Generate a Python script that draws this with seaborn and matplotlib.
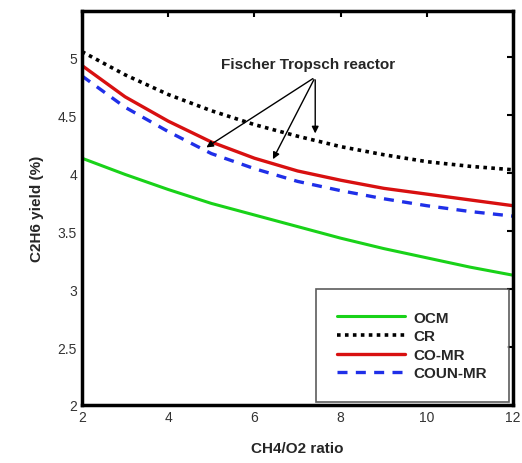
import numpy as np
import pandas as pd
import matplotlib
matplotlib.use("Agg")
import matplotlib.pyplot as plt
import seaborn as sns

# data
ratio = [2, 3, 4, 5, 6, 7, 8, 9, 10, 11, 12]
ocm = [4.13, 3.99, 3.86, 3.74, 3.64, 3.54, 3.44, 3.35, 3.27, 3.19, 3.12]
cr = [5.05, 4.85, 4.68, 4.54, 4.42, 4.32, 4.23, 4.16, 4.10, 4.06, 4.03]
co_mr = [4.93, 4.66, 4.45, 4.27, 4.13, 4.02, 3.94, 3.87, 3.82, 3.77, 3.72]
coun_mr = [4.84, 4.57, 4.36, 4.17, 4.04, 3.93, 3.85, 3.78, 3.72, 3.67, 3.63]
series_names = ["OCM", "CR", "CO-MR", "COUN-MR"]

sns.set_style("white")
plt.rcParams['font.family'] = ['Liberation Sans', 'DejaVu Sans']

fig = plt.figure(figsize=(5.22, 4.64), dpi=100)
ax = fig.add_axes([0.157, 0.125, 0.826, 0.849])

styles = {
    "OCM": dict(color="#19d219", linestyle="-", lw=2.2),
    "CR": dict(color="black", linestyle=(0, (1, 1.2)), lw=2.6),
    "CO-MR": dict(color="#d81010", linestyle="-", lw=2.4),
    "COUN-MR": dict(color="#1f2fe8", linestyle=(0, (3, 2.5)), lw=2.4),
}
for name, vals in zip(series_names, [ocm, cr, co_mr, coun_mr]):
    sns.lineplot(x=ratio, y=vals, ax=ax, label=name, **styles[name])

ax.set_xlim(2, 12)
ax.set_ylim(2, 5.4)
ax.set_xticks([2, 4, 6, 8, 10, 12])
ax.set_yticks([2, 2.5, 3, 3.5, 4, 4.5, 5])
ax.set_yticklabels(["2", "2.5", "3", "3.5", "4", "4.5", "5"])
ax.tick_params(direction="in", length=4, width=1.5, top=True, right=True,
               labelsize=10, colors="black", labelcolor="#333333")
for s in ax.spines.values():
    s.set_linewidth(2.5)
    s.set_color("black")

ax.set_xlabel("CH4/O2 ratio", fontsize=11, fontweight="bold", labelpad=12)
ax.set_ylabel("C2H6 yield (%)", fontsize=11, fontweight="bold", labelpad=10)

# annotation
ax.text(7.25, 4.94, "Fischer Tropsch reactor", ha="center", va="center",
        fontsize=11, fontweight="bold")
for tx, ty in [(4.83, 4.21), (6.4, 4.10), (7.41, 4.32)]:
    ax.annotate("", xy=(tx, ty), xytext=(7.41, 4.83),
                arrowprops=dict(arrowstyle="-|>", color="black", lw=1.0,
                                mutation_scale=10))

leg = ax.legend(loc="lower right", bbox_to_anchor=(0.99, 0.008),
                frameon=True, fancybox=False, edgecolor="#333333",
                handlelength=4.4, handletextpad=0.6, labelspacing=0.3,
                borderpad=1.4, borderaxespad=0.0,
                prop=dict(weight="bold", size=11))
leg.get_frame().set_linewidth(1.2)

fig.savefig("out.png", dpi=100)
